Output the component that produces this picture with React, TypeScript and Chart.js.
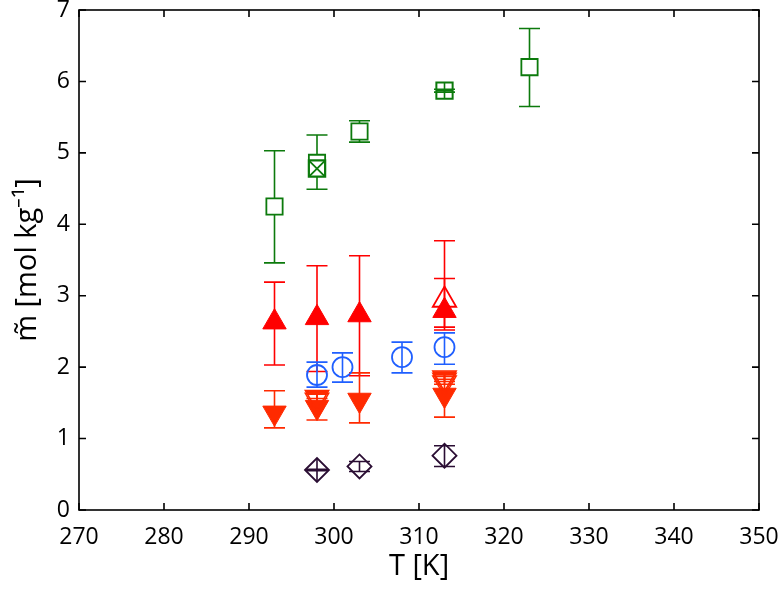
import React, { useEffect, useRef } from "react";
import { Chart, registerables } from "chart.js";

Chart.register(...registerables);

// Axis ticks
const xTicks = [270, 280, 290, 300, 310, 320, 330, 340, 350];
const yTicks = [0, 1, 2, 3, 4, 5, 6, 7];

// Green open squares
const sqT = [293, 298, 303, 323];
const sqM = [4.25, 4.86, 5.3, 6.2];
const sqLo = [3.46, 4.49, 5.15, 5.65];
const sqHi = [5.03, 5.25, 5.45, 6.74];

// Green square with X
const sqxT = [298];
const sqxM = [4.78];

// Green square with +
const sqpT = [313];
const sqpM = [5.87];
const sqpLo = [5.85];
const sqpHi = [5.89];

// Red filled up-triangles
const upT = [293, 298, 303, 313];
const upM = [2.63, 2.69, 2.73, 2.79];
const upLo = [2.03, 1.94, 1.88, 2.52];
const upHi = [3.19, 3.42, 3.56, 3.24];

// Red open up-triangle
const upoT = [313];
const upoM = [2.94];
const upoLo = [2.56];
const upoHi = [3.77];

// Red filled down-triangles
const dnT = [293, 298, 303, 313];
const dnM = [1.36, 1.44, 1.54, 1.61];
const dnLo = [1.15, 1.26, 1.22, 1.3];
const dnHi = [1.67, 1.62, 1.92, 1.9];

// Red open down-triangles
const dnoT = [298, 298, 313, 313, 313];
const dnoM = [1.58, 1.54, 1.85, 1.82, 1.78];
const dnoLo = [1.56, 1.52, 1.83, 1.8, 1.76];
const dnoHi = [1.66, 1.64, 1.93, 1.9, 1.87];

// Blue open circles
const ciT = [298, 301, 308, 313];
const ciM = [1.89, 2.0, 2.14, 2.28];
const ciLo = [1.72, 1.79, 1.92, 2.04];
const ciHi = [2.07, 2.2, 2.35, 2.48];

// Dark diamonds
const diT = [298, 303, 313];
const diM = [0.56, 0.61, 0.76];
const diLo = [0.55, 0.54, 0.61];
const diHi = [0.57, 0.68, 0.9];

const GREEN = "#0c7a0c";
const RED = "#ff0000";
const RED2 = "#ff2a00";
const BLUE = "#1f5fff";
const PURPLE = "#2a0d33";

const pts = (xs: number[], ys: number[]) => xs.map((x, i) => ({ x, y: ys[i] }));

const errorBarPlugin = {
  id: "errorBars",
  beforeDatasetsDraw(chart: any) {
    const { ctx, scales } = chart;
    const xs = scales.x;
    const ys = scales.y;
    ctx.save();
    chart.data.datasets.forEach((ds: any) => {
      if (!ds.errLo) return;
      ctx.strokeStyle = ds.errColor || ds.borderColor;
      ctx.lineWidth = 1.6;
      ds.data.forEach((p: any, i: number) => {
        const x = xs.getPixelForValue(p.x);
        const yl = ys.getPixelForValue(ds.errLo[i]);
        const yh = ys.getPixelForValue(ds.errHi[i]);
        const cw = 10.5;
        ctx.beginPath();
        ctx.moveTo(x, yl);
        ctx.lineTo(x, yh);
        ctx.moveTo(x - cw, yl);
        ctx.lineTo(x + cw, yl);
        ctx.moveTo(x - cw, yh);
        ctx.lineTo(x + cw, yh);
        ctx.stroke();
      });
    });
    ctx.restore();
  },
};

const framePlugin = {
  id: "frame",
  afterDraw(chart: any) {
    const { ctx, chartArea, scales } = chart;
    const { left, right, top, bottom } = chartArea;
    ctx.save();
    ctx.strokeStyle = "#000";
    ctx.lineWidth = 1.6;
    ctx.strokeRect(left, top, right - left, bottom - top);
    const tl = 7;
    ctx.beginPath();
    xTicks.forEach((v) => {
      const x = scales.x.getPixelForValue(v);
      ctx.moveTo(x, bottom);
      ctx.lineTo(x, bottom - tl);
      ctx.moveTo(x, top);
      ctx.lineTo(x, top + tl);
    });
    yTicks.forEach((v) => {
      const y = scales.y.getPixelForValue(v);
      ctx.moveTo(left, y);
      ctx.lineTo(left + tl, y);
      ctx.moveTo(right, y);
      ctx.lineTo(right - tl, y);
    });
    ctx.stroke();
    ctx.restore();
  },
};

const zeroPad = (s: any) => {
  s.paddingTop = 0;
  s.paddingBottom = 0;
  s.paddingLeft = 0;
  s.paddingRight = 0;
};

export default function App() {
  const ref = useRef<HTMLCanvasElement | null>(null);
  useEffect(() => {
    if (!ref.current) return;
    const chart = new Chart(ref.current, {
      type: "scatter",
      data: {
        datasets: [
          // overlays first (drawn on top)
          {
            data: pts(sqxT, sqxM),
            pointStyle: "crossRot",
            pointRadius: 11,
            borderColor: GREEN,
            backgroundColor: GREEN,
            pointBorderWidth: 1.8,
          } as any,
          {
            data: pts(sqpT, sqpM),
            pointStyle: "cross",
            pointRadius: 8,
            borderColor: GREEN,
            backgroundColor: GREEN,
            pointBorderWidth: 1.6,
          } as any,
          {
            data: pts([diT[0]], [diM[0]]),
            pointStyle: "cross",
            pointRadius: 12,
            borderColor: PURPLE,
            backgroundColor: PURPLE,
            pointBorderWidth: 1.6,
          } as any,
          {
            data: pts(sqxT, sqxM),
            pointStyle: "rect",
            pointRadius: 11.5,
            borderColor: GREEN,
            backgroundColor: "#ffffff",
            pointBorderWidth: 2.2,
          } as any,
          {
            data: pts(sqpT, sqpM),
            pointStyle: "rect",
            pointRadius: 11.5,
            borderColor: GREEN,
            backgroundColor: "rgba(255,255,255,0)",
            pointBorderWidth: 2,
            errLo: sqpLo,
            errHi: sqpHi,
          } as any,
          {
            data: pts(sqT, sqM),
            pointStyle: "rect",
            pointRadius: 11.5,
            borderColor: GREEN,
            backgroundColor: "#ffffff",
            pointBorderWidth: 1.8,
            errLo: sqLo,
            errHi: sqHi,
          } as any,
          {
            data: pts(upoT, upoM),
            pointStyle: "triangle",
            pointRadius: 13.5,
            borderColor: RED,
            backgroundColor: "rgba(255,255,255,0)",
            pointBorderWidth: 1.8,
            errLo: upoLo,
            errHi: upoHi,
          } as any,
          {
            data: pts(upT, upM),
            pointStyle: "triangle",
            pointRadius: 13.5,
            borderColor: RED,
            backgroundColor: RED,
            pointBorderWidth: 1,
            errLo: upLo,
            errHi: upHi,
          } as any,
          {
            data: pts(ciT, ciM),
            pointStyle: "circle",
            pointRadius: 10,
            borderColor: BLUE,
            backgroundColor: "rgba(255,255,255,0)",
            pointBorderWidth: 1.8,
            errLo: ciLo,
            errHi: ciHi,
          } as any,
          {
            data: pts(dnoT, dnoM),
            pointStyle: "triangle",
            rotation: 180,
            pointRadius: 13.5,
            borderColor: RED2,
            backgroundColor: "rgba(255,255,255,0)",
            pointBorderWidth: 1.5,
            errLo: dnoLo,
            errHi: dnoHi,
          } as any,
          {
            data: pts(dnT, dnM),
            pointStyle: "triangle",
            rotation: 180,
            pointRadius: 13.5,
            borderColor: RED2,
            backgroundColor: RED2,
            pointBorderWidth: 1,
            errLo: dnLo,
            errHi: dnHi,
          } as any,
          {
            data: pts(diT, diM),
            pointStyle: "rectRot",
            pointRadius: 12,
            borderColor: PURPLE,
            backgroundColor: "rgba(255,255,255,0)",
            pointBorderWidth: 1.8,
            errLo: diLo,
            errHi: diHi,
          } as any,
        ],
      },
      options: {
        animation: false,
        responsive: false,
        maintainAspectRatio: false,
        layout: { autoPadding: false, padding: { top: 10, right: 20, left: 0, bottom: 0 } },
        plugins: {
          legend: { display: false },
          tooltip: { enabled: false },
        },
        scales: {
          x: {
            type: "linear",
            min: 270,
            max: 350,
            afterBuildTicks: (s: any) => {
              s.ticks = xTicks.map((v) => ({ value: v }));
            },
            afterFit: (s: any) => {
              s.height = 79;
              zeroPad(s);
            },
            ticks: {
              font: { family: "'Open Sans', sans-serif", size: 23 },
              color: "#000",
              padding: 14,
              maxRotation: 0,
            },
            grid: { display: false, drawTicks: false },
            border: { display: false },
            title: {
              display: true,
              text: "T [K]",
              color: "#000",
              font: { family: "'Open Sans', sans-serif", size: 29 },
              padding: { top: 0, bottom: 5 },
            },
          },
          y: {
            type: "linear",
            min: 0,
            max: 7,
            afterBuildTicks: (s: any) => {
              s.ticks = yTicks.map((v) => ({ value: v }));
            },
            afterFit: (s: any) => {
              s.width = 79;
              zeroPad(s);
            },
            ticks: {
              font: { family: "'Open Sans', sans-serif", size: 23 },
              color: "#000",
              padding: 9,
            },
            grid: { display: false, drawTicks: false },
            border: { display: false },
            title: {
              display: true,
              text: "m\u0303 [mol kg\u207B\u00B9]",
              color: "#000",
              font: { family: "'Open Sans', sans-serif", size: 29 },
              padding: { top: 10, bottom: 0 },
            },
          },
        },
      },
      plugins: [errorBarPlugin, framePlugin],
    } as any);
    return () => chart.destroy();
  }, []);
  return (
    <div style={{ position: "absolute", left: 0, top: 0, width: 779, height: 589, background: "#fff" }}>
      <canvas ref={ref} width={779} height={589} style={{ display: "block" }} />
    </div>
  );
}
